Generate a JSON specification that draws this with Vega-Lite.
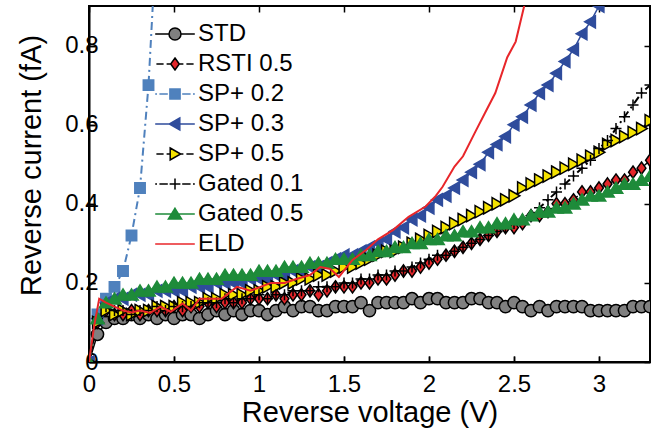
{
  "$schema": "https://vega.github.io/schema/vega-lite/v6.json",
  "width": 561,
  "height": 356,
  "autosize": "none",
  "padding": {"left": 89, "top": 6, "right": 15, "bottom": 69},
  "config": {
    "font": "Liberation Sans",
    "view": {"stroke": "black", "strokeWidth": 2},
    "axis": {
      "domainColor": "black", "domainWidth": 2, "tickColor": "black", "tickWidth": 1.5, "tickSize": -6,
      "labelFont": "Liberation Sans", "labelFontSize": 24, "labelColor": "black",
      "titleFont": "Liberation Sans", "titleFontSize": 29, "titleFontWeight": "normal", "titleColor": "black",
      "grid": false, "labelOverlap": false, "labelFlush": false
    },
    "legend": {
      "labelFont": "Liberation Sans", "labelFontSize": 24, "labelColor": "black",
      "symbolSize": 144, "symbolStrokeWidth": 1.5, "labelOffset": 11, "rowPadding": 6, "padding": 0
    }
  },
  "data": {"values": [
    {"s":"STD","v":0,"i":0},{"s":"STD","v":0.05,"i":0.07},{"s":"STD","v":0.1,"i":0.1},{"s":"STD","v":0.15,"i":0.11},{"s":"STD","v":0.2,"i":0.11},{"s":"STD","v":0.25,"i":0.12},{"s":"STD","v":0.3,"i":0.11},{"s":"STD","v":0.35,"i":0.12},{"s":"STD","v":0.4,"i":0.11},{"s":"STD","v":0.45,"i":0.12},
    {"s":"STD","v":0.5,"i":0.11},{"s":"STD","v":0.55,"i":0.12},{"s":"STD","v":0.6,"i":0.12},{"s":"STD","v":0.65,"i":0.11},{"s":"STD","v":0.7,"i":0.12},{"s":"STD","v":0.75,"i":0.13},{"s":"STD","v":0.8,"i":0.12},{"s":"STD","v":0.85,"i":0.13},{"s":"STD","v":0.9,"i":0.12},{"s":"STD","v":0.95,"i":0.13},
    {"s":"STD","v":1,"i":0.13},{"s":"STD","v":1.05,"i":0.12},{"s":"STD","v":1.1,"i":0.13},{"s":"STD","v":1.15,"i":0.14},{"s":"STD","v":1.2,"i":0.13},{"s":"STD","v":1.25,"i":0.14},{"s":"STD","v":1.3,"i":0.14},{"s":"STD","v":1.35,"i":0.13},{"s":"STD","v":1.4,"i":0.13},{"s":"STD","v":1.45,"i":0.14},
    {"s":"STD","v":1.5,"i":0.14},{"s":"STD","v":1.55,"i":0.14},{"s":"STD","v":1.6,"i":0.15},{"s":"STD","v":1.65,"i":0.13},{"s":"STD","v":1.7,"i":0.15},{"s":"STD","v":1.75,"i":0.15},{"s":"STD","v":1.8,"i":0.15},{"s":"STD","v":1.85,"i":0.15},{"s":"STD","v":1.9,"i":0.16},{"s":"STD","v":1.95,"i":0.15},
    {"s":"STD","v":2,"i":0.16},{"s":"STD","v":2.05,"i":0.16},{"s":"STD","v":2.1,"i":0.15},{"s":"STD","v":2.15,"i":0.15},{"s":"STD","v":2.2,"i":0.15},{"s":"STD","v":2.25,"i":0.16},{"s":"STD","v":2.3,"i":0.16},{"s":"STD","v":2.35,"i":0.15},{"s":"STD","v":2.4,"i":0.15},{"s":"STD","v":2.45,"i":0.14},
    {"s":"STD","v":2.5,"i":0.15},{"s":"STD","v":2.55,"i":0.14},{"s":"STD","v":2.6,"i":0.13},{"s":"STD","v":2.65,"i":0.14},{"s":"STD","v":2.7,"i":0.13},{"s":"STD","v":2.75,"i":0.14},{"s":"STD","v":2.8,"i":0.14},{"s":"STD","v":2.85,"i":0.14},{"s":"STD","v":2.9,"i":0.14},{"s":"STD","v":2.95,"i":0.13},
    {"s":"STD","v":3,"i":0.13},{"s":"STD","v":3.05,"i":0.13},{"s":"STD","v":3.1,"i":0.13},{"s":"STD","v":3.15,"i":0.13},{"s":"STD","v":3.2,"i":0.14},{"s":"STD","v":3.25,"i":0.14},{"s":"STD","v":3.3,"i":0.14},

    {"s":"RSTI 0.5","v":0,"i":0},{"s":"RSTI 0.5","v":0.05,"i":0.1},{"s":"RSTI 0.5","v":0.1,"i":0.13},{"s":"RSTI 0.5","v":0.15,"i":0.12},{"s":"RSTI 0.5","v":0.2,"i":0.12},{"s":"RSTI 0.5","v":0.25,"i":0.13},{"s":"RSTI 0.5","v":0.3,"i":0.12},{"s":"RSTI 0.5","v":0.35,"i":0.13},{"s":"RSTI 0.5","v":0.4,"i":0.13},{"s":"RSTI 0.5","v":0.45,"i":0.13},
    {"s":"RSTI 0.5","v":0.5,"i":0.14},{"s":"RSTI 0.5","v":0.55,"i":0.13},{"s":"RSTI 0.5","v":0.6,"i":0.14},{"s":"RSTI 0.5","v":0.65,"i":0.14},{"s":"RSTI 0.5","v":0.7,"i":0.15},{"s":"RSTI 0.5","v":0.75,"i":0.14},{"s":"RSTI 0.5","v":0.8,"i":0.15},{"s":"RSTI 0.5","v":0.85,"i":0.15},{"s":"RSTI 0.5","v":0.9,"i":0.15},{"s":"RSTI 0.5","v":0.95,"i":0.16},
    {"s":"RSTI 0.5","v":1,"i":0.16},{"s":"RSTI 0.5","v":1.05,"i":0.16},{"s":"RSTI 0.5","v":1.1,"i":0.17},{"s":"RSTI 0.5","v":1.15,"i":0.16},{"s":"RSTI 0.5","v":1.2,"i":0.17},{"s":"RSTI 0.5","v":1.25,"i":0.17},{"s":"RSTI 0.5","v":1.3,"i":0.18},{"s":"RSTI 0.5","v":1.35,"i":0.17},{"s":"RSTI 0.5","v":1.4,"i":0.18},{"s":"RSTI 0.5","v":1.45,"i":0.19},
    {"s":"RSTI 0.5","v":1.5,"i":0.19},{"s":"RSTI 0.5","v":1.55,"i":0.19},{"s":"RSTI 0.5","v":1.6,"i":0.2},{"s":"RSTI 0.5","v":1.65,"i":0.2},{"s":"RSTI 0.5","v":1.7,"i":0.21},{"s":"RSTI 0.5","v":1.75,"i":0.21},{"s":"RSTI 0.5","v":1.8,"i":0.22},{"s":"RSTI 0.5","v":1.85,"i":0.23},{"s":"RSTI 0.5","v":1.9,"i":0.23},{"s":"RSTI 0.5","v":1.95,"i":0.24},
    {"s":"RSTI 0.5","v":2,"i":0.25},{"s":"RSTI 0.5","v":2.05,"i":0.26},{"s":"RSTI 0.5","v":2.1,"i":0.27},{"s":"RSTI 0.5","v":2.15,"i":0.28},{"s":"RSTI 0.5","v":2.2,"i":0.29},{"s":"RSTI 0.5","v":2.25,"i":0.3},{"s":"RSTI 0.5","v":2.3,"i":0.31},{"s":"RSTI 0.5","v":2.35,"i":0.32},{"s":"RSTI 0.5","v":2.4,"i":0.33},{"s":"RSTI 0.5","v":2.45,"i":0.34},
    {"s":"RSTI 0.5","v":2.5,"i":0.34},{"s":"RSTI 0.5","v":2.55,"i":0.35},{"s":"RSTI 0.5","v":2.6,"i":0.37},{"s":"RSTI 0.5","v":2.65,"i":0.37},{"s":"RSTI 0.5","v":2.7,"i":0.38},{"s":"RSTI 0.5","v":2.75,"i":0.4},{"s":"RSTI 0.5","v":2.8,"i":0.4},{"s":"RSTI 0.5","v":2.85,"i":0.41},{"s":"RSTI 0.5","v":2.9,"i":0.43},{"s":"RSTI 0.5","v":2.95,"i":0.43},
    {"s":"RSTI 0.5","v":3,"i":0.44},{"s":"RSTI 0.5","v":3.05,"i":0.45},{"s":"RSTI 0.5","v":3.1,"i":0.46},{"s":"RSTI 0.5","v":3.15,"i":0.46},{"s":"RSTI 0.5","v":3.2,"i":0.48},{"s":"RSTI 0.5","v":3.25,"i":0.49},{"s":"RSTI 0.5","v":3.3,"i":0.51},

    {"s":"SP+ 0.2","v":0,"i":0},{"s":"SP+ 0.2","v":0.05,"i":0.12},{"s":"SP+ 0.2","v":0.1,"i":0.16},{"s":"SP+ 0.2","v":0.15,"i":0.19},{"s":"SP+ 0.2","v":0.2,"i":0.23},{"s":"SP+ 0.2","v":0.25,"i":0.32},{"s":"SP+ 0.2","v":0.3,"i":0.44},{"s":"SP+ 0.2","v":0.35,"i":0.7},{"s":"SP+ 0.2","v":0.4,"i":1.1},

    {"s":"SP+ 0.3","v":0,"i":0},{"s":"SP+ 0.3","v":0.05,"i":0.11},{"s":"SP+ 0.3","v":0.1,"i":0.15},{"s":"SP+ 0.3","v":0.15,"i":0.16},{"s":"SP+ 0.3","v":0.2,"i":0.16},{"s":"SP+ 0.3","v":0.25,"i":0.17},{"s":"SP+ 0.3","v":0.3,"i":0.17},{"s":"SP+ 0.3","v":0.35,"i":0.17},{"s":"SP+ 0.3","v":0.4,"i":0.18},{"s":"SP+ 0.3","v":0.45,"i":0.18},
    {"s":"SP+ 0.3","v":0.5,"i":0.18},{"s":"SP+ 0.3","v":0.55,"i":0.18},{"s":"SP+ 0.3","v":0.6,"i":0.19},{"s":"SP+ 0.3","v":0.65,"i":0.19},{"s":"SP+ 0.3","v":0.7,"i":0.19},{"s":"SP+ 0.3","v":0.75,"i":0.2},{"s":"SP+ 0.3","v":0.8,"i":0.2},{"s":"SP+ 0.3","v":0.85,"i":0.2},{"s":"SP+ 0.3","v":0.9,"i":0.2},{"s":"SP+ 0.3","v":0.95,"i":0.21},
    {"s":"SP+ 0.3","v":1,"i":0.21},{"s":"SP+ 0.3","v":1.05,"i":0.21},{"s":"SP+ 0.3","v":1.1,"i":0.22},{"s":"SP+ 0.3","v":1.15,"i":0.22},{"s":"SP+ 0.3","v":1.2,"i":0.23},{"s":"SP+ 0.3","v":1.25,"i":0.23},{"s":"SP+ 0.3","v":1.3,"i":0.24},{"s":"SP+ 0.3","v":1.35,"i":0.24},{"s":"SP+ 0.3","v":1.4,"i":0.25},{"s":"SP+ 0.3","v":1.45,"i":0.26},
    {"s":"SP+ 0.3","v":1.5,"i":0.27},{"s":"SP+ 0.3","v":1.55,"i":0.27},{"s":"SP+ 0.3","v":1.6,"i":0.28},{"s":"SP+ 0.3","v":1.65,"i":0.29},{"s":"SP+ 0.3","v":1.7,"i":0.3},{"s":"SP+ 0.3","v":1.75,"i":0.31},{"s":"SP+ 0.3","v":1.8,"i":0.33},{"s":"SP+ 0.3","v":1.85,"i":0.34},{"s":"SP+ 0.3","v":1.9,"i":0.36},{"s":"SP+ 0.3","v":1.95,"i":0.37},
    {"s":"SP+ 0.3","v":2,"i":0.39},{"s":"SP+ 0.3","v":2.05,"i":0.41},{"s":"SP+ 0.3","v":2.1,"i":0.42},{"s":"SP+ 0.3","v":2.15,"i":0.44},{"s":"SP+ 0.3","v":2.2,"i":0.46},{"s":"SP+ 0.3","v":2.25,"i":0.48},{"s":"SP+ 0.3","v":2.3,"i":0.5},{"s":"SP+ 0.3","v":2.35,"i":0.53},{"s":"SP+ 0.3","v":2.4,"i":0.55},{"s":"SP+ 0.3","v":2.45,"i":0.57},
    {"s":"SP+ 0.3","v":2.5,"i":0.6},{"s":"SP+ 0.3","v":2.55,"i":0.62},{"s":"SP+ 0.3","v":2.6,"i":0.65},{"s":"SP+ 0.3","v":2.65,"i":0.68},{"s":"SP+ 0.3","v":2.7,"i":0.7},{"s":"SP+ 0.3","v":2.75,"i":0.73},{"s":"SP+ 0.3","v":2.8,"i":0.76},{"s":"SP+ 0.3","v":2.85,"i":0.79},{"s":"SP+ 0.3","v":2.9,"i":0.83},{"s":"SP+ 0.3","v":2.95,"i":0.86},
    {"s":"SP+ 0.3","v":3,"i":0.9},{"s":"SP+ 0.3","v":3.05,"i":0.94},{"s":"SP+ 0.3","v":3.1,"i":0.98},{"s":"SP+ 0.3","v":3.15,"i":1.02},{"s":"SP+ 0.3","v":3.2,"i":1.06},{"s":"SP+ 0.3","v":3.25,"i":1.1},{"s":"SP+ 0.3","v":3.3,"i":1.15},

    {"s":"SP+ 0.5","v":0,"i":0},{"s":"SP+ 0.5","v":0.05,"i":0.1},{"s":"SP+ 0.5","v":0.1,"i":0.13},{"s":"SP+ 0.5","v":0.15,"i":0.12},{"s":"SP+ 0.5","v":0.2,"i":0.13},{"s":"SP+ 0.5","v":0.25,"i":0.12},{"s":"SP+ 0.5","v":0.3,"i":0.13},{"s":"SP+ 0.5","v":0.35,"i":0.13},{"s":"SP+ 0.5","v":0.4,"i":0.14},{"s":"SP+ 0.5","v":0.45,"i":0.14},
    {"s":"SP+ 0.5","v":0.5,"i":0.14},{"s":"SP+ 0.5","v":0.55,"i":0.15},{"s":"SP+ 0.5","v":0.6,"i":0.15},{"s":"SP+ 0.5","v":0.65,"i":0.15},{"s":"SP+ 0.5","v":0.7,"i":0.16},{"s":"SP+ 0.5","v":0.75,"i":0.16},{"s":"SP+ 0.5","v":0.8,"i":0.17},{"s":"SP+ 0.5","v":0.85,"i":0.17},{"s":"SP+ 0.5","v":0.9,"i":0.17},{"s":"SP+ 0.5","v":0.95,"i":0.18},
    {"s":"SP+ 0.5","v":1,"i":0.18},{"s":"SP+ 0.5","v":1.05,"i":0.19},{"s":"SP+ 0.5","v":1.1,"i":0.19},{"s":"SP+ 0.5","v":1.15,"i":0.2},{"s":"SP+ 0.5","v":1.2,"i":0.2},{"s":"SP+ 0.5","v":1.25,"i":0.21},{"s":"SP+ 0.5","v":1.3,"i":0.21},{"s":"SP+ 0.5","v":1.35,"i":0.22},{"s":"SP+ 0.5","v":1.4,"i":0.22},{"s":"SP+ 0.5","v":1.45,"i":0.23},
    {"s":"SP+ 0.5","v":1.5,"i":0.24},{"s":"SP+ 0.5","v":1.55,"i":0.24},{"s":"SP+ 0.5","v":1.6,"i":0.25},{"s":"SP+ 0.5","v":1.65,"i":0.26},{"s":"SP+ 0.5","v":1.7,"i":0.27},{"s":"SP+ 0.5","v":1.75,"i":0.28},{"s":"SP+ 0.5","v":1.8,"i":0.28},{"s":"SP+ 0.5","v":1.85,"i":0.29},{"s":"SP+ 0.5","v":1.9,"i":0.3},{"s":"SP+ 0.5","v":1.95,"i":0.31},
    {"s":"SP+ 0.5","v":2,"i":0.32},{"s":"SP+ 0.5","v":2.05,"i":0.33},{"s":"SP+ 0.5","v":2.1,"i":0.34},{"s":"SP+ 0.5","v":2.15,"i":0.35},{"s":"SP+ 0.5","v":2.2,"i":0.36},{"s":"SP+ 0.5","v":2.25,"i":0.37},{"s":"SP+ 0.5","v":2.3,"i":0.38},{"s":"SP+ 0.5","v":2.35,"i":0.39},{"s":"SP+ 0.5","v":2.4,"i":0.4},{"s":"SP+ 0.5","v":2.45,"i":0.41},
    {"s":"SP+ 0.5","v":2.5,"i":0.42},{"s":"SP+ 0.5","v":2.55,"i":0.44},{"s":"SP+ 0.5","v":2.6,"i":0.45},{"s":"SP+ 0.5","v":2.65,"i":0.46},{"s":"SP+ 0.5","v":2.7,"i":0.47},{"s":"SP+ 0.5","v":2.75,"i":0.48},{"s":"SP+ 0.5","v":2.8,"i":0.49},{"s":"SP+ 0.5","v":2.85,"i":0.5},{"s":"SP+ 0.5","v":2.9,"i":0.51},{"s":"SP+ 0.5","v":2.95,"i":0.52},
    {"s":"SP+ 0.5","v":3,"i":0.53},{"s":"SP+ 0.5","v":3.05,"i":0.55},{"s":"SP+ 0.5","v":3.1,"i":0.56},{"s":"SP+ 0.5","v":3.15,"i":0.57},{"s":"SP+ 0.5","v":3.2,"i":0.58},{"s":"SP+ 0.5","v":3.25,"i":0.59},{"s":"SP+ 0.5","v":3.3,"i":0.61},

    {"s":"Gated 0.1","v":0,"i":0},{"s":"Gated 0.1","v":0.05,"i":0.11},{"s":"Gated 0.1","v":0.1,"i":0.14},{"s":"Gated 0.1","v":0.15,"i":0.13},{"s":"Gated 0.1","v":0.2,"i":0.13},{"s":"Gated 0.1","v":0.25,"i":0.12},{"s":"Gated 0.1","v":0.3,"i":0.13},{"s":"Gated 0.1","v":0.35,"i":0.13},{"s":"Gated 0.1","v":0.4,"i":0.14},{"s":"Gated 0.1","v":0.45,"i":0.13},
    {"s":"Gated 0.1","v":0.5,"i":0.14},{"s":"Gated 0.1","v":0.55,"i":0.14},{"s":"Gated 0.1","v":0.6,"i":0.14},{"s":"Gated 0.1","v":0.65,"i":0.15},{"s":"Gated 0.1","v":0.7,"i":0.15},{"s":"Gated 0.1","v":0.75,"i":0.15},{"s":"Gated 0.1","v":0.8,"i":0.16},{"s":"Gated 0.1","v":0.85,"i":0.15},{"s":"Gated 0.1","v":0.9,"i":0.16},{"s":"Gated 0.1","v":0.95,"i":0.16},
    {"s":"Gated 0.1","v":1,"i":0.17},{"s":"Gated 0.1","v":1.05,"i":0.16},{"s":"Gated 0.1","v":1.1,"i":0.17},{"s":"Gated 0.1","v":1.15,"i":0.17},{"s":"Gated 0.1","v":1.2,"i":0.18},{"s":"Gated 0.1","v":1.25,"i":0.18},{"s":"Gated 0.1","v":1.3,"i":0.18},{"s":"Gated 0.1","v":1.35,"i":0.19},{"s":"Gated 0.1","v":1.4,"i":0.19},{"s":"Gated 0.1","v":1.45,"i":0.19},
    {"s":"Gated 0.1","v":1.5,"i":0.2},{"s":"Gated 0.1","v":1.55,"i":0.2},{"s":"Gated 0.1","v":1.6,"i":0.21},{"s":"Gated 0.1","v":1.65,"i":0.21},{"s":"Gated 0.1","v":1.7,"i":0.22},{"s":"Gated 0.1","v":1.75,"i":0.22},{"s":"Gated 0.1","v":1.8,"i":0.23},{"s":"Gated 0.1","v":1.85,"i":0.23},{"s":"Gated 0.1","v":1.9,"i":0.24},{"s":"Gated 0.1","v":1.95,"i":0.25},
    {"s":"Gated 0.1","v":2,"i":0.26},{"s":"Gated 0.1","v":2.05,"i":0.27},{"s":"Gated 0.1","v":2.1,"i":0.27},{"s":"Gated 0.1","v":2.15,"i":0.28},{"s":"Gated 0.1","v":2.2,"i":0.29},{"s":"Gated 0.1","v":2.25,"i":0.3},{"s":"Gated 0.1","v":2.3,"i":0.31},{"s":"Gated 0.1","v":2.35,"i":0.32},{"s":"Gated 0.1","v":2.4,"i":0.33},{"s":"Gated 0.1","v":2.45,"i":0.34},
    {"s":"Gated 0.1","v":2.5,"i":0.35},{"s":"Gated 0.1","v":2.55,"i":0.36},{"s":"Gated 0.1","v":2.6,"i":0.37},{"s":"Gated 0.1","v":2.65,"i":0.39},{"s":"Gated 0.1","v":2.7,"i":0.41},{"s":"Gated 0.1","v":2.75,"i":0.43},{"s":"Gated 0.1","v":2.8,"i":0.45},{"s":"Gated 0.1","v":2.85,"i":0.47},{"s":"Gated 0.1","v":2.9,"i":0.49},{"s":"Gated 0.1","v":2.95,"i":0.51},
    {"s":"Gated 0.1","v":3,"i":0.54},{"s":"Gated 0.1","v":3.05,"i":0.56},{"s":"Gated 0.1","v":3.1,"i":0.59},{"s":"Gated 0.1","v":3.15,"i":0.62},{"s":"Gated 0.1","v":3.2,"i":0.65},{"s":"Gated 0.1","v":3.25,"i":0.68},{"s":"Gated 0.1","v":3.3,"i":0.7},

    {"s":"Gated 0.5","v":0,"i":0},{"s":"Gated 0.5","v":0.05,"i":0.11},{"s":"Gated 0.5","v":0.1,"i":0.15},{"s":"Gated 0.5","v":0.15,"i":0.16},{"s":"Gated 0.5","v":0.2,"i":0.17},{"s":"Gated 0.5","v":0.25,"i":0.17},{"s":"Gated 0.5","v":0.3,"i":0.18},{"s":"Gated 0.5","v":0.35,"i":0.18},{"s":"Gated 0.5","v":0.4,"i":0.19},{"s":"Gated 0.5","v":0.45,"i":0.19},
    {"s":"Gated 0.5","v":0.5,"i":0.2},{"s":"Gated 0.5","v":0.55,"i":0.2},{"s":"Gated 0.5","v":0.6,"i":0.2},{"s":"Gated 0.5","v":0.65,"i":0.21},{"s":"Gated 0.5","v":0.7,"i":0.21},{"s":"Gated 0.5","v":0.75,"i":0.21},{"s":"Gated 0.5","v":0.8,"i":0.22},{"s":"Gated 0.5","v":0.85,"i":0.22},{"s":"Gated 0.5","v":0.9,"i":0.22},{"s":"Gated 0.5","v":0.95,"i":0.22},
    {"s":"Gated 0.5","v":1,"i":0.23},{"s":"Gated 0.5","v":1.05,"i":0.23},{"s":"Gated 0.5","v":1.1,"i":0.23},{"s":"Gated 0.5","v":1.15,"i":0.24},{"s":"Gated 0.5","v":1.2,"i":0.24},{"s":"Gated 0.5","v":1.25,"i":0.24},{"s":"Gated 0.5","v":1.3,"i":0.25},{"s":"Gated 0.5","v":1.35,"i":0.25},{"s":"Gated 0.5","v":1.4,"i":0.25},{"s":"Gated 0.5","v":1.45,"i":0.26},
    {"s":"Gated 0.5","v":1.5,"i":0.26},{"s":"Gated 0.5","v":1.55,"i":0.26},{"s":"Gated 0.5","v":1.6,"i":0.27},{"s":"Gated 0.5","v":1.65,"i":0.27},{"s":"Gated 0.5","v":1.7,"i":0.28},{"s":"Gated 0.5","v":1.75,"i":0.28},{"s":"Gated 0.5","v":1.8,"i":0.29},{"s":"Gated 0.5","v":1.85,"i":0.29},{"s":"Gated 0.5","v":1.9,"i":0.3},{"s":"Gated 0.5","v":1.95,"i":0.3},
    {"s":"Gated 0.5","v":2,"i":0.31},{"s":"Gated 0.5","v":2.05,"i":0.31},{"s":"Gated 0.5","v":2.1,"i":0.32},{"s":"Gated 0.5","v":2.15,"i":0.32},{"s":"Gated 0.5","v":2.2,"i":0.33},{"s":"Gated 0.5","v":2.25,"i":0.33},{"s":"Gated 0.5","v":2.3,"i":0.34},{"s":"Gated 0.5","v":2.35,"i":0.34},{"s":"Gated 0.5","v":2.4,"i":0.35},{"s":"Gated 0.5","v":2.45,"i":0.35},
    {"s":"Gated 0.5","v":2.5,"i":0.36},{"s":"Gated 0.5","v":2.55,"i":0.36},{"s":"Gated 0.5","v":2.6,"i":0.37},{"s":"Gated 0.5","v":2.65,"i":0.38},{"s":"Gated 0.5","v":2.7,"i":0.38},{"s":"Gated 0.5","v":2.75,"i":0.39},{"s":"Gated 0.5","v":2.8,"i":0.39},{"s":"Gated 0.5","v":2.85,"i":0.4},{"s":"Gated 0.5","v":2.9,"i":0.41},{"s":"Gated 0.5","v":2.95,"i":0.42},
    {"s":"Gated 0.5","v":3,"i":0.42},{"s":"Gated 0.5","v":3.05,"i":0.43},{"s":"Gated 0.5","v":3.1,"i":0.44},{"s":"Gated 0.5","v":3.15,"i":0.45},{"s":"Gated 0.5","v":3.2,"i":0.45},{"s":"Gated 0.5","v":3.25,"i":0.46},{"s":"Gated 0.5","v":3.3,"i":0.47},

    {"s":"ELD","v":0,"i":0},{"s":"ELD","v":0.03,"i":0.09},{"s":"ELD","v":0.06,"i":0.16},{"s":"ELD","v":0.1,"i":0.15},{"s":"ELD","v":0.15,"i":0.14},{"s":"ELD","v":0.2,"i":0.13},{"s":"ELD","v":0.25,"i":0.125},{"s":"ELD","v":0.3,"i":0.13},{"s":"ELD","v":0.36,"i":0.124},{"s":"ELD","v":0.42,"i":0.14},
    {"s":"ELD","v":0.48,"i":0.127},{"s":"ELD","v":0.55,"i":0.148},{"s":"ELD","v":0.6,"i":0.13},{"s":"ELD","v":0.65,"i":0.16},{"s":"ELD","v":0.78,"i":0.16},{"s":"ELD","v":0.87,"i":0.19},{"s":"ELD","v":0.95,"i":0.18},{"s":"ELD","v":1.07,"i":0.2},{"s":"ELD","v":1.15,"i":0.2},{"s":"ELD","v":1.22,"i":0.21},
    {"s":"ELD","v":1.3,"i":0.22},{"s":"ELD","v":1.36,"i":0.24},{"s":"ELD","v":1.42,"i":0.235},{"s":"ELD","v":1.47,"i":0.215},{"s":"ELD","v":1.55,"i":0.258},{"s":"ELD","v":1.63,"i":0.283},{"s":"ELD","v":1.7,"i":0.31},{"s":"ELD","v":1.79,"i":0.334},{"s":"ELD","v":1.88,"i":0.367},{"s":"ELD","v":1.98,"i":0.393},
    {"s":"ELD","v":2.04,"i":0.42},{"s":"ELD","v":2.08,"i":0.443},{"s":"ELD","v":2.15,"i":0.494},{"s":"ELD","v":2.2,"i":0.52},{"s":"ELD","v":2.27,"i":0.58},{"s":"ELD","v":2.33,"i":0.63},{"s":"ELD","v":2.39,"i":0.68},{"s":"ELD","v":2.46,"i":0.77},{"s":"ELD","v":2.51,"i":0.81},{"s":"ELD","v":2.56,"i":0.9},{"s":"ELD","v":2.6,"i":0.98},{"s":"ELD","v":2.65,"i":1.05}
  ]},
  "resolve": {
    "axis": {"x": "independent", "y": "independent"},
    "scale": {"shape": "independent"},
    "legend": {"shape": "independent", "fill": "independent", "stroke": "independent"}
  },
  "layer": [
    {
      "transform": [{"filter": "datum.s === 'STD' || datum.s === 'SP+ 0.3' || datum.s === 'Gated 0.5'"}],
      "mark": {"type": "line", "clip": true, "strokeWidth": 1.5},
      "encoding": {
        "x": {"field": "v", "type": "quantitative", "scale": {"domain": [0, 3.3], "nice": false, "zero": false},
              "axis": {"orient": "bottom", "title": "Reverse voltage (V)", "values": [0, 0.5, 1, 1.5, 2, 2.5, 3], "format": "~g", "labelPadding": 16, "titlePadding": 2}},
        "y": {"field": "i", "type": "quantitative", "scale": {"domain": [0, 0.9], "nice": false},
              "axis": {"orient": "left", "title": "Reverse current (fA)", "values": [0, 0.2, 0.4, 0.6, 0.8], "format": "~g", "labelPadding": -3, "titlePadding": 18, "titleY": 159}},
        "stroke": {"field": "s", "type": "nominal",
                   "scale": {"domain": ["STD", "RSTI 0.5", "SP+ 0.2", "SP+ 0.3", "SP+ 0.5", "Gated 0.1", "Gated 0.5", "ELD"],
                             "range": ["#000000", "#000000", "#4F81BD", "#2F4C9C", "#000000", "#000000", "#1E8B3A", "#E8262A"]},
                   "legend": null}
      }
    },
    {
      "transform": [{"filter": "datum.s === 'RSTI 0.5' || datum.s === 'SP+ 0.5'"}],
      "mark": {"type": "line", "clip": true, "strokeWidth": 1.5, "strokeDash": [6, 4]},
      "encoding": {
        "x": {"field": "v", "type": "quantitative", "axis": {"orient": "bottom", "offset": -6, "tickSize": 6, "domain": false, "labels": false, "title": null, "values": [0, 0.5, 1, 1.5, 2, 2.5, 3]}},
        "y": {"field": "i", "type": "quantitative", "axis": {"orient": "left", "offset": -6, "tickSize": 6, "domain": false, "labels": false, "title": null, "values": [0, 0.2, 0.4, 0.6, 0.8]}},
        "stroke": {"field": "s", "type": "nominal", "legend": null}
      }
    },
    {
      "transform": [{"filter": "datum.s === 'SP+ 0.2' || datum.s === 'Gated 0.1'"}],
      "mark": {"type": "line", "clip": true, "strokeWidth": 2, "strokeDash": [8, 4, 2, 4]},
      "encoding": {
        "x": {"field": "v", "type": "quantitative", "axis": {"orient": "top", "offset": -6, "tickSize": 6, "domain": false, "labels": false, "title": null, "values": [0, 0.5, 1, 1.5, 2, 2.5, 3]}},
        "y": {"field": "i", "type": "quantitative", "axis": {"orient": "right", "offset": -6, "tickSize": 6, "domain": false, "labels": false, "title": null, "values": [0, 0.2, 0.4, 0.6, 0.8]}},
        "stroke": {"field": "s", "type": "nominal", "legend": null}
      }
    },
    {
      "transform": [{"filter": "datum.s !== 'ELD'"}],
      "mark": {"type": "point", "filled": true, "clip": true, "opacity": 1, "strokeWidth": 1.5, "size": 150},
      "encoding": {
        "x": {"field": "v", "type": "quantitative", "axis": null},
        "y": {"field": "i", "type": "quantitative", "axis": null},
        "shape": {"field": "s", "type": "nominal",
                  "scale": {"domain": ["STD", "RSTI 0.5", "SP+ 0.2", "SP+ 0.3", "SP+ 0.5", "Gated 0.1", "Gated 0.5", "ELD"],
                            "range": ["circle", "M0,-1L0.72,0L0,1L-0.72,0Z", "M-0.85,-0.85H0.85V0.85H-0.85Z", "M0.8,-1L-0.95,0L0.8,1Z", "M-0.8,-1L0.95,0L-0.8,1Z", "M-0.9,0H0.9M0,-0.9V0.9", "M0,-0.95L1.1,0.85L-1.1,0.85Z", "circle"]},
                  "legend": null},
        "fill": {"field": "s", "type": "nominal",
                 "scale": {"domain": ["STD", "RSTI 0.5", "SP+ 0.2", "SP+ 0.3", "SP+ 0.5", "Gated 0.1", "Gated 0.5", "ELD"],
                           "range": ["#808080", "#E3262A", "#4F81BD", "#2F4C9C", "#F4E200", "#000000", "#1E8B3A", "#E8262A"]},
                 "legend": null},
        "stroke": {"field": "s", "type": "nominal", "legend": null}
      }
    },
    {
      "transform": [{"filter": "datum.s === 'ELD'"}],
      "mark": {"type": "line", "clip": true, "strokeWidth": 2},
      "encoding": {
        "x": {"field": "v", "type": "quantitative", "axis": null},
        "y": {"field": "i", "type": "quantitative", "axis": null},
        "stroke": {"field": "s", "type": "nominal", "legend": null}
      }
    },
    {
      "transform": [{"filter": "datum.v > 100"}],
      "mark": {"type": "point", "filled": true, "opacity": 1, "strokeWidth": 1.5, "size": 144},
      "encoding": {
        "x": {"field": "v", "type": "quantitative", "axis": null},
        "y": {"field": "i", "type": "quantitative", "axis": null},
        "shape": {"field": "s", "type": "nominal",
                  "scale": {"domain": ["STD", "RSTI 0.5", "SP+ 0.2", "SP+ 0.3", "SP+ 0.5", "Gated 0.1", "Gated 0.5", "ELD"],
                            "range": ["M-3.3,0H-1M1,0H3.3M1,0A1,1,0,1,1,-1,0A1,1,0,1,1,1,0Z", "M-3.1,0H-1.9M-1.4,0H-0.8M0.8,0H1.4M1.9,0H3.1M0,-1L0.72,0L0,1L-0.72,0Z", "M-3.3,0H-3.0M-2.6,0H-1.2M1.2,0H2.6M3.0,0H3.3M-0.85,-0.85H0.85V0.85H-0.85Z", "M-3.3,0H3.3M0.8,-1L-0.95,0L0.8,1Z", "M-3.1,0H-1.9M-1.4,0H-0.8M0.8,0H1.4M1.9,0H3.1M-0.8,-1L0.95,0L-0.8,1Z", "M-3.3,0H-3.0M-2.6,0H-1.2M1.2,0H2.6M3.0,0H3.3M-0.9,0H0.9M0,-0.9V0.9", "M-3.3,0H3.3M0,-0.95L1.1,0.85L-1.1,0.85Z", "M-3.3,0H3.3"]},
                  "legend": {"title": null, "orient": "none", "legendX": 74, "legendY": 16}},
        "fill": {"field": "s", "type": "nominal", "legend": {"title": null, "orient": "none", "legendX": 74, "legendY": 16}},
        "stroke": {"field": "s", "type": "nominal", "legend": {"title": null, "orient": "none", "legendX": 74, "legendY": 16}}
      }
    }
  ]
}
